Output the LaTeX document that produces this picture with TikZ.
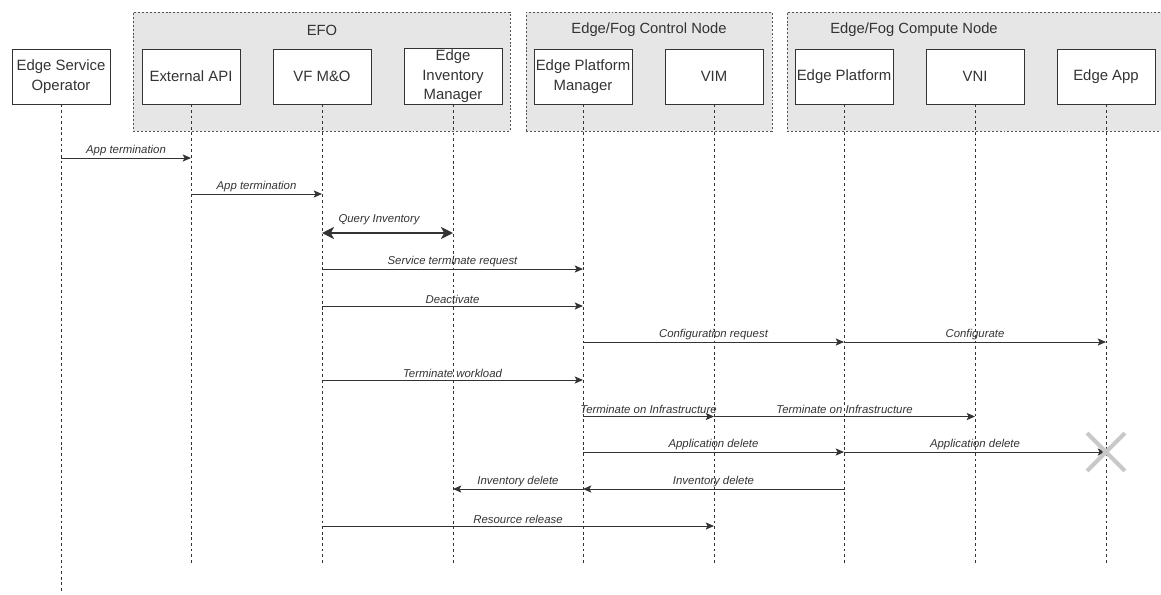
\documentclass[tikz,border=0pt]{standalone}
\usepackage{fontspec}
\setmainfont{Liberation Sans}
\usetikzlibrary{arrows.meta,shapes.misc}

\definecolor{grpgray}{HTML}{E6E6E6}
\definecolor{inkgray}{HTML}{333333}
\definecolor{crossgray}{HTML}{C8C8C8}

\tikzset{
  actor/.style={draw=inkgray, fill=white, rectangle, minimum width=2.45cm, minimum height=1.375cm,
    inner sep=1pt, align=center, text=inkgray, font=\fontsize{10.6}{13.8}\selectfont},
  group/.style={draw=inkgray!85, dash pattern=on 1.4pt off 1.4pt, fill=grpgray, rectangle, inner sep=0pt},
  grouptitle/.style={text=inkgray, font=\fontsize{10.5}{12}\selectfont},
  lifeline/.style={draw=inkgray, line width=0.6pt, dash pattern=on 2pt off 2pt},
  msg/.style={draw=inkgray, line width=0.7pt, -{Stealth[length=2.1mm,width=1.8mm,inset=0.5mm]}},
  lbl/.style={above=1.5pt, inner sep=0pt, text=inkgray, font=\fontsize{8.1}{9}\selectfont\itshape},
}

\begin{document}
\begin{tikzpicture}[x=0.025cm, y=-0.025cm]
    \useasboundingbox (0,0) rectangle (1161,594);

    % groups
    \node[group, minimum width=9.425cm, minimum height=2.975cm] (efo) at (321.5,71.5) {};
    \node[group, minimum width=6.15cm, minimum height=2.975cm] (ctrl) at (649,71.5) {};
    \node[group, minimum width=9.575cm, minimum height=2.975cm] (comp) at (978.5,71.5) {};
    \node[grouptitle] (efo title) at (322,30) {EFO};
    \node[grouptitle] (ctrl title) at (649,30) {Edge/Fog Control Node};
    \node[grouptitle] (comp title) at (914,30) {Edge/Fog Compute Node};

    % participants
    \node[actor] (eso) at (61,76.5) {Edge Service\\Operator};
    \node[actor] (api) at (191,76.5) {External API};
    \node[actor] (vfmo) at (322,76.5) {VF M\&O};
    \node[actor] (eim) at (453,76.5) {Edge\\Inventory\\Manager};
    \node[actor] (epm) at (583,76.5) {Edge Platform\\Manager};
    \node[actor] (vim) at (714,76.5) {VIM};
    \node[actor] (ep) at (844,76.5) {Edge Platform};
    \node[actor] (vni) at (975,76.5) {VNI};
    \node[actor] (app) at (1106,76.5) {Edge App};

    % lifelines
    \coordinate (esoend) at (0,593);
    \coordinate (lifeend) at (0,565);
    \draw[lifeline] (eso.south) -- (eso |- esoend);
    \foreach \n in {api,vfmo,eim,epm,vim,ep,vni,app}
        \draw[lifeline] (\n.south) -- (\n |- lifeend);

    % message rows
    \coordinate (r1) at (0,158);
    \coordinate (r2) at (0,194);
    \coordinate (r3) at (0,233);
    \coordinate (r4) at (0,269);
    \coordinate (r5) at (0,306);
    \coordinate (r6) at (0,342);
    \coordinate (r7) at (0,380);
    \coordinate (r8) at (0,416.5);
    \coordinate (r9) at (0,452);
    \coordinate (r10) at (0,489);
    \coordinate (r11) at (0,526);

    \draw[msg] (eso |- r1) -- node[lbl] {App termination} (api |- r1);
    \draw[msg] (api |- r2) -- node[lbl] {App termination} (vfmo |- r2);
    \draw[draw=inkgray, line width=2.1pt, {Stealth[length=3mm,width=3mm,inset=0.8mm]}-{Stealth[length=3mm,width=3mm,inset=0.8mm]}]
        (vfmo |- r3) -- node[lbl, above=3pt, xshift=-6pt] {Query Inventory} (eim |- r3);
    \draw[msg] (vfmo |- r4) -- node[lbl] {Service terminate request} (epm |- r4);
    \draw[msg] (vfmo |- r5) -- node[lbl] {Deactivate} (epm |- r5);
    \draw[msg] (epm |- r6) -- node[lbl] {Configuration request} (ep |- r6);
    \draw[msg] (ep |- r6) -- node[lbl] {Configurate} (app |- r6);
    \draw[msg] (vfmo |- r7) -- node[lbl] {Terminate workload} (epm |- r7);
    \draw[msg] (epm |- r8) -- node[lbl] {Terminate on Infrastructure} (vim |- r8);
    \draw[msg] (vim |- r8) -- node[lbl] {Terminate on Infrastructure} (vni |- r8);
    \draw[msg] (epm |- r9) -- node[lbl] {Application delete} (ep |- r9);
    \draw[msg] (ep |- r9) -- node[lbl] {Application delete} (app |- r9);
    \draw[msg] (ep |- r10) -- node[lbl] {Inventory delete} (epm |- r10);
    \draw[msg] (epm |- r10) -- node[lbl] {Inventory delete} (eim |- r10);
    \draw[msg] (vfmo |- r11) -- node[lbl] {Resource release} (vim |- r11);

    % end of Edge App
    \node[cross out, draw=crossgray, line width=2.8pt, minimum size=0.85cm, inner sep=0pt] (appgone) at (app |- r9) {};
\end{tikzpicture}
\end{document}
